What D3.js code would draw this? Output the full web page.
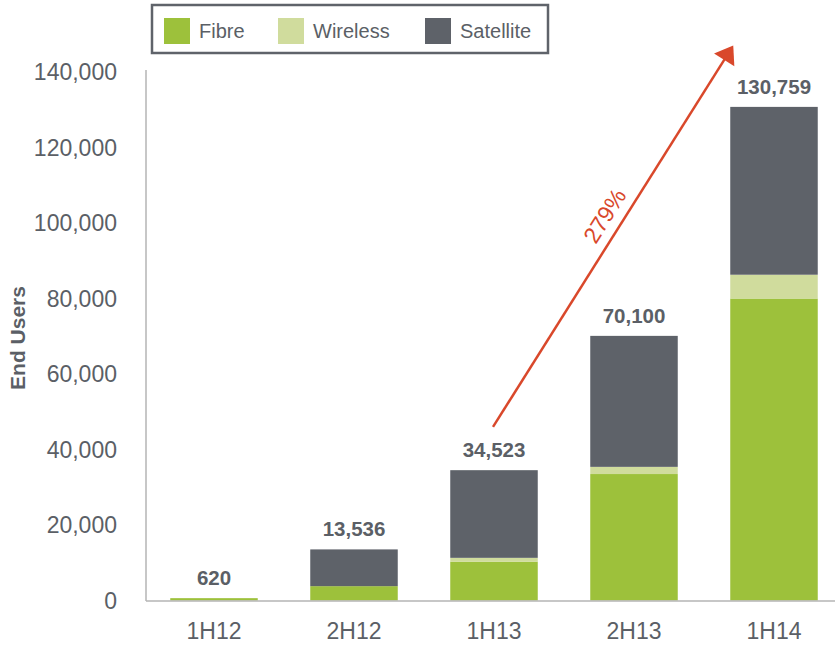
<!DOCTYPE html>
<html>
<head>
    <meta charset="UTF-8" />
    <script src="https://cdn.jsdelivr.net/npm/d3@7/dist/d3.min.js"></script>
    <style>
        body { margin: 0; background: #fff; }
        svg text { font-family: "Liberation Sans", Arial, sans-serif; }
    </style>
</head>
<body>
    <div id="chart"></div>
    <script>
        // data
        const periods = ["1H12", "2H12", "1H13", "2H13", "1H14"];
        const fibre = [620, 3800, 10300, 33500, 80000];
        const wireless = [0, 0, 1000, 1900, 6300];
        const satellite = [0, 9736, 23223, 34700, 44459];
        const totals = [620, 13536, 34523, 70100, 130759];
        const yTicks = [0, 20000, 40000, 60000, 80000, 100000, 120000, 140000];
        const seriesNames = ["Fibre", "Wireless", "Satellite"];
        const growthLabel = "279%";

        const colors = { Fibre: "#9dc13b", Wireless: "#d0dc9d", Satellite: "#5e6269" };
        const textGray = "#5b5f66";
        const red = "#d9482b";

        const width = 836, height = 646;

        const svg = d3.select("#chart").append("svg")
            .attr("width", width)
            .attr("height", height)
            .attr("viewBox", [0, 0, width, height]);

        const x = d3.scaleBand()
            .domain(periods)
            .range([144, 844])
            .paddingInner(0.375)
            .paddingOuter(0.1875);

        const y = d3.scaleLinear()
            .domain([0, 140000])
            .range([600.5, 72]);

        // rows for the stack
        const rows = periods.map((p, i) => ({
            period: p,
            Fibre: fibre[i],
            Wireless: wireless[i],
            Satellite: satellite[i]
        }));
        const stacked = d3.stack().keys(seriesNames)(rows);

        // axes lines
        svg.append("line")
            .attr("x1", 146).attr("x2", 146)
            .attr("y1", 70).attr("y2", 601)
            .attr("stroke", "#b4b4b4").attr("stroke-width", 1.5);

        // y tick labels
        svg.append("g")
            .selectAll("text")
            .data(yTicks)
            .join("text")
            .attr("x", 117)
            .attr("y", d => y(d))
            .attr("dy", "0.36em")
            .attr("text-anchor", "end")
            .attr("fill", textGray)
            .attr("font-size", 23)
            .text(d => d3.format(",")(d));

        svg.append("text")
            .attr("transform", "translate(25,338) rotate(-90)")
            .attr("text-anchor", "middle")
            .attr("fill", textGray)
            .attr("font-size", 21)
            .attr("font-weight", "bold")
            .text("End Users");

        // bars
        svg.append("g")
            .selectAll("g")
            .data(stacked)
            .join("g")
            .attr("fill", d => colors[d.key])
            .selectAll("rect")
            .data(d => d)
            .join("rect")
            .attr("x", d => x(d.data.period))
            .attr("width", x.bandwidth())
            .attr("y", d => y(d[1]))
            .attr("height", d => y(d[0]) - y(d[1]));

        svg.append("line")
            .attr("x1", 146).attr("x2", 835)
            .attr("y1", 601).attr("y2", 601)
            .attr("stroke", "#b4b4b4").attr("stroke-width", 1.5);

        // totals
        svg.append("g")
            .selectAll("text")
            .data(totals)
            .join("text")
            .attr("x", (d, i) => x(periods[i]) + x.bandwidth() / 2)
            .attr("y", d => y(d) - 13)
            .attr("text-anchor", "middle")
            .attr("fill", textGray)
            .attr("font-size", 20.5)
            .attr("font-weight", "bold")
            .text(d => d3.format(",")(d));

        // x labels
        svg.append("g")
            .selectAll("text")
            .data(periods)
            .join("text")
            .attr("x", d => x(d) + x.bandwidth() / 2)
            .attr("y", 639)
            .attr("text-anchor", "middle")
            .attr("fill", textGray)
            .attr("font-size", 23)
            .text(d => d);

        // growth arrow from 1H13 to 1H14
        const x0 = x("1H13") + x.bandwidth() / 2 - 1, y0 = y(46000);
        const x1 = x("1H14") + 3, y1 = y(147000);
        const len = Math.hypot(x1 - x0, y1 - y0);
        const ang = Math.atan2(y1 - y0, x1 - x0) * 180 / Math.PI;

        const arrow = svg.append("g")
            .attr("transform", `translate(${x0},${y0}) rotate(${ang})`);
        arrow.append("line")
            .attr("x1", 0).attr("y1", 0)
            .attr("x2", len - 14).attr("y2", 0)
            .attr("stroke", red).attr("stroke-width", 2.5);
        arrow.append("path")
            .attr("d", `M${len},0 L${len - 17},-12 L${len - 17},12 Z`)
            .attr("fill", red);
        arrow.append("text")
            .attr("x", 238)
            .attr("y", -10)
            .attr("text-anchor", "middle")
            .attr("fill", red)
            .attr("font-size", 23)
            .text(growthLabel);

        // legend
        const legend = svg.append("g");
        legend.append("rect")
            .attr("x", 152).attr("y", 5)
            .attr("width", 396).attr("height", 48)
            .attr("fill", "#fff")
            .attr("stroke", "#5f636a").attr("stroke-width", 2.5);
        const legendX = [164, 278, 425];
        const item = legend.selectAll("g")
            .data(seriesNames)
            .join("g")
            .attr("transform", (d, i) => `translate(${legendX[i]},18)`);
        item.append("rect")
            .attr("width", 26).attr("height", 26)
            .attr("fill", d => colors[d]);
        item.append("text")
            .attr("x", 35)
            .attr("y", 20)
            .attr("fill", textGray)
            .attr("font-size", 20)
            .text(d => d);
    </script>
</body>
</html>
